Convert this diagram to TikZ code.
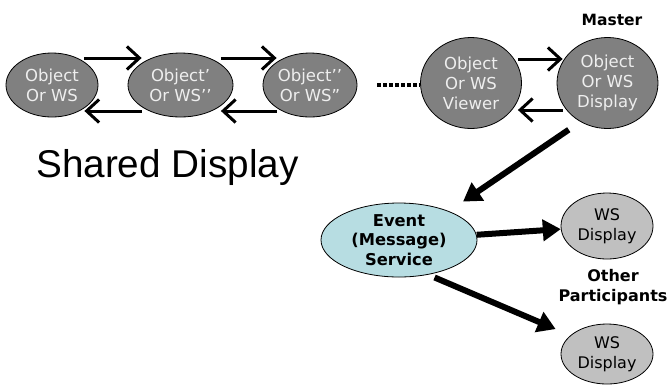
\documentclass[tikz,border=0pt]{standalone}
\usepackage{fontspec}
\setmainfont{DejaVu Sans}
\newfontfamily\arialf{Liberation Sans}
\usetikzlibrary{shapes.geometric,arrows.meta,calc}
\definecolor{objgray}{HTML}{808080}
\definecolor{objtext}{HTML}{EEEEEE}
\definecolor{evtblue}{HTML}{B7DDE2}
\definecolor{wsgray}{HTML}{C0C0C0}
\tikzset{
  objnode/.style={ellipse, draw=black, line width=0.8pt, fill=objgray, text=objtext,
    align=center, inner sep=0pt, font=\fontsize{16.5}{20}\selectfont},
  wsnode/.style={ellipse, draw=black, line width=0.8pt, fill=wsgray, text=black,
    align=center, inner sep=0pt, font=\fontsize{16}{20}\selectfont},
  evtnode/.style={ellipse, draw=black, line width=0.8pt, fill=evtblue, inner sep=0pt},
  boldlbl/.style={align=center, inner sep=0pt, font=\fontsize{16.3}{19.5}\selectfont\bfseries},
  thinarr/.style={line width=3pt, -{Straight Barb[length=12.5pt,width=23pt]}},
  thickarr/.style={line width=6pt, -{Triangle[length=18pt,width=21pt]}},
  dotline/.style={line width=3.2pt, dash pattern=on 3.2pt off 2.8pt},
}
\begin{document}
\begin{tikzpicture}[x=1pt,y=-1pt]
\useasboundingbox (0,0) rectangle (671,384);
% top row
\node[objnode, minimum width=92pt, minimum height=64pt] (e1) at (52,85) {Object\\Or WS};
\node[objnode, minimum width=105pt, minimum height=64pt] (e2) at (180.5,85) {Object’\\Or WS’’};
\node[objnode, minimum width=94pt, minimum height=64pt] (e3) at (310,85) {Object’’\\Or WS”};
\node[objnode, minimum width=101pt, minimum height=91pt] (viewer) at (471,83) {Object\\Or WS\\Viewer};
\node[objnode, minimum width=101pt, minimum height=91pt] (disp) at (607.5,83) {Object\\Or WS\\Display};
\node[boldlbl, font=\fontsize{15.5}{19}\selectfont\bfseries] (master) at (612,20) {Master};
% arrows top row
\draw[thinarr] ($(e1.east)+(-14,-27)$) -- ($(e2.west)+(14,-27)$);
\draw[thinarr] ($(e2.west)+(14,26)$) -- ($(e1.east)+(-14,26)$);
\draw[thinarr] ($(e2.east)+(-12.5,-27)$) -- ($(e3.west)+(14,-27)$);
\draw[thinarr] ($(e3.west)+(14,26)$) -- ($(e2.east)+(-12.5,26)$);
\draw[thinarr] ($(viewer.east)+(-4,-24)$) -- ($(disp.west)+(6,-24)$);
\draw[thinarr] ($(disp.west)+(6,27)$) -- ($(viewer.east)+(-4,27)$);
\draw[dotline] ($(e3.east)+(20,0)$) -- (viewer.west |- e3.east);
% title
\node[anchor=base west, inner sep=0pt, font=\arialf\fontsize{38.7}{44}\selectfont] (title) at (36,177) {Shared Display};
% event service
\node[evtnode, minimum width=156pt, minimum height=74pt] (event) at (399,240) {};
\node[boldlbl] (eventtxt) at (event) {Event\\(Message)\\Service};
\node[wsnode, minimum width=92pt, minimum height=66pt] (ws1) at (607,226) {WS\\Display};
\node[wsnode, minimum width=92pt, minimum height=60pt] (ws2) at (607,354) {WS\\Display};
\node[boldlbl, font=\fontsize{16}{19.5}\selectfont\bfseries] (others) at (613,287) {Other\\Participants};
% thick arrows
\draw[thickarr, shorten <=14pt, shorten >=17pt] (disp.235) -- (event.30);
\draw[thickarr] (event) -- (ws1);
\draw[thickarr, shorten <=7pt, shorten >=16pt] (event.-50) -- (ws2.153);
\end{tikzpicture}
\end{document}
